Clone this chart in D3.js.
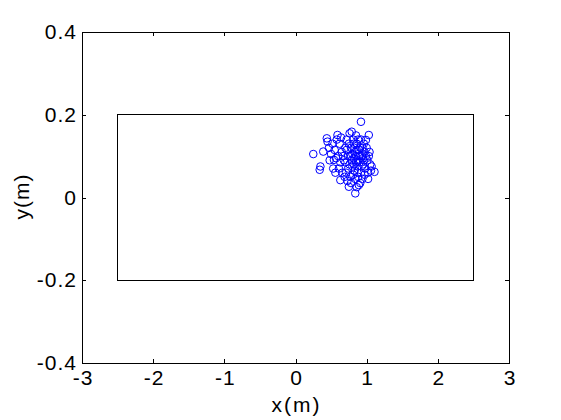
<!DOCTYPE html>
<html>
<head>
<meta charset="utf-8">
<script src="https://cdn.jsdelivr.net/npm/d3@7"></script>
<style>
  body { margin: 0; background: #fff; }
  text { font-family: "Liberation Sans", Arial, Helvetica, sans-serif; fill: #000; }
</style>
</head>
<body>
<svg></svg>
<script>
// measured positions (m)
var xs = [0.92, 0.25, 0.35, 0.34, 1.03, 0.99, 0.84, 0.75, 0.89, 1.11, 0.63, 0.44, 0.59, 0.79, 0.39, 0.54,
  0.62, 0.65, 0.68, 0.61, 0.66, 0.70, 0.64, 0.69, 0.67, 0.63,
  0.72, 0.74, 0.76, 0.71, 0.78, 0.73, 0.77, 0.75, 0.79, 0.72, 0.76, 0.78, 0.74,
  0.81, 0.83, 0.85, 0.82, 0.87, 0.84, 0.86, 0.88, 0.80, 0.89, 0.83, 0.85, 0.81, 0.87, 0.82, 0.86, 0.88, 0.84,
  0.91, 0.93, 0.95, 0.92, 0.97, 0.94, 0.96, 0.90, 0.98, 0.92, 0.95, 0.99, 0.91, 0.93, 0.97,
  1.01, 1.03, 1.05, 1.02, 1.04, 1.00, 1.06, 1.02, 1.07,
  0.45, 0.47, 0.50, 0.52, 0.55, 0.57, 0.48, 0.58, 0.53, 0.60, 0.56,
  0.80, 0.85, 0.90, 0.78, 0.88, 0.94, 0.82, 0.70, 0.96, 0.86];
var ys = [0.183, 0.105, 0.075, 0.067, 0.151, 0.139, 0.010, 0.026, 0.030, 0.062, 0.042, 0.143, 0.151, 0.159, 0.111, 0.091,
  0.130, 0.110, 0.090, 0.070, 0.060, 0.120, 0.145, 0.050, 0.100, 0.085,
  0.140, 0.100, 0.080, 0.060, 0.120, 0.040, 0.050, 0.130, 0.090, 0.115, 0.155, 0.035, 0.070,
  0.140, 0.120, 0.100, 0.080, 0.060, 0.045, 0.130, 0.090, 0.105, 0.115, 0.065, 0.150, 0.055, 0.075, 0.095, 0.025, 0.140, 0.110,
  0.120, 0.100, 0.080, 0.060, 0.110, 0.045, 0.130, 0.085, 0.070, 0.140, 0.095, 0.100, 0.035, 0.075, 0.055,
  0.090, 0.100, 0.080, 0.060, 0.110, 0.120, 0.065, 0.045, 0.075,
  0.135, 0.120, 0.105, 0.130, 0.115, 0.095, 0.090, 0.140, 0.070, 0.100, 0.060,
  0.075, 0.085, 0.100, 0.100, 0.050, 0.120, 0.130, 0.085, 0.090, 0.115];

// boundary rectangle corners
var rectX = [-2.5, 2.5];
var rectY = [-0.2, 0.2];

var xTicks = [-3, -2, -1, 0, 1, 2, 3];
var xTickLabels = ["-3", "-2", "-1", "0", "1", "2", "3"];
var yTicks = [-0.4, -0.2, 0, 0.2, 0.4];
var yTickLabels = ["-0.4", "-0.2", "0", "0.2", "0.4"];

var width = 561, height = 420,
    margin = {top: 32, right: 52, bottom: 57, left: 82};

var svg = d3.select("svg")
  .attr("width", width)
  .attr("height", height);

var x = d3.scaleLinear().domain([-3, 3]).range([margin.left, width - margin.right]);
var y = d3.scaleLinear().domain([-0.4, 0.4]).range([height - margin.bottom, margin.top]);

var tickLen = 4;

// bottom + top axes (ticks point inward)
svg.append("g")
  .attr("transform", "translate(0," + y(-0.4) + ")")
  .call(d3.axisBottom(x).tickValues(xTicks)
    .tickFormat(function(d, i) { return xTickLabels[i]; })
    .tickSizeInner(-tickLen).tickSizeOuter(0).tickPadding(7))
  .call(function(g) { g.select(".domain").remove(); })
  .selectAll(".tick text").attr("dx", "0.5");

svg.append("g")
  .attr("transform", "translate(0," + y(0.4) + ")")
  .call(d3.axisTop(x).tickValues(xTicks).tickSizeInner(-tickLen).tickSizeOuter(0).tickFormat(""))
  .call(function(g) { g.select(".domain").remove(); });

svg.append("g")
  .attr("transform", "translate(" + x(-3) + ",0)")
  .call(d3.axisLeft(y).tickValues(yTicks)
    .tickFormat(function(d, i) { return yTickLabels[i]; })
    .tickSizeInner(-tickLen).tickSizeOuter(0).tickPadding(5))
  .call(function(g) { g.select(".domain").remove(); });

svg.append("g")
  .attr("transform", "translate(" + x(3) + ",0)")
  .call(d3.axisRight(y).tickValues(yTicks).tickSizeInner(-tickLen).tickSizeOuter(0).tickFormat(""))
  .call(function(g) { g.select(".domain").remove(); });

svg.selectAll(".tick line").attr("stroke", "#000").attr("shape-rendering", "crispEdges");
svg.selectAll(".tick text")
  .attr("font-size", 21)
  .attr("font-family", null)
  .attr("fill", "#000")
  .style("letter-spacing", "1px");

// axes box
svg.append("rect")
  .attr("x", x(-3)).attr("y", y(0.4))
  .attr("width", x(3) - x(-3)).attr("height", y(-0.4) - y(0.4))
  .attr("fill", "none").attr("stroke", "#000").attr("shape-rendering", "crispEdges");

// inner rectangle
svg.append("rect")
  .attr("x", x(rectX[0])).attr("y", y(rectY[1]))
  .attr("width", x(rectX[1]) - x(rectX[0])).attr("height", y(rectY[0]) - y(rectY[1]))
  .attr("fill", "none").attr("stroke", "#000").attr("shape-rendering", "crispEdges");

// points
svg.append("g")
  .selectAll("circle")
  .data(xs.map(function(d, i) { return [d, ys[i]]; }))
  .enter().append("circle")
  .attr("cx", function(d) { return x(d[0]); })
  .attr("cy", function(d) { return y(d[1]); })
  .attr("r", 3.8)
  .attr("fill", "none")
  .attr("stroke", "#0000ff")
  .attr("stroke-width", 1);

// labels
svg.append("text")
  .attr("x", (x(-3) + x(3)) / 2 + 1)
  .attr("y", 412)
  .attr("text-anchor", "middle")
  .attr("font-size", 21)
  .style("letter-spacing", "2px")
  .text("x(m)");

svg.append("text")
  .attr("transform", "translate(29," + (y(0) - 1) + ") rotate(-90)")
  .attr("text-anchor", "middle")
  .attr("font-size", 21)
  .style("letter-spacing", "1px")
  .text("y(m)");
</script>
</body>
</html>
